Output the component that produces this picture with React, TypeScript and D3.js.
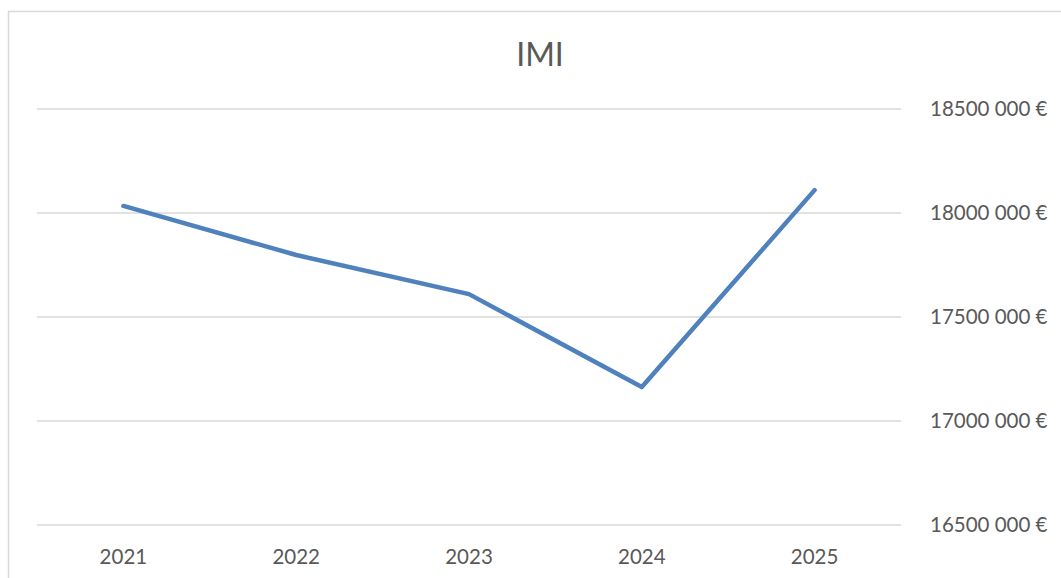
import React from "react";
import * as d3 from "d3";

const years = ["2021", "2022", "2023", "2024", "2025"];
const values = [18034000, 17798000, 17610000, 17163000, 18110000];
const yTicks = [16500000, 17000000, 17500000, 18000000, 18500000];
const title = "IMI";

const W = 1061;
const H = 578;
const FONT = "Lato, 'Open Sans', sans-serif";

const fmt = (v: number) => {
  const s = String(v);
  return s.slice(0, s.length - 3) + " " + s.slice(s.length - 3) + " €";
};

export default function App() {
  const x = d3.scaleBand<string>().domain(years).range([37, 901]);
  const y = d3.scaleLinear().domain([16500000, 18500000]).range([525, 109]);
  const line = d3
    .line<number>()
    .x((_, i) => (x(years[i]) as number) + x.bandwidth() / 2)
    .y((d) => y(d));

  return (
    <svg
      width={W}
      height={H}
      style={{ position: "absolute", left: 0, top: 0, background: "#fff" }}
    >
      <rect x={8.5} y={11.5} width={W + 20} height={H + 20} fill="#fff" stroke="#d9d9d9" strokeWidth={1.5} />
      <text x={540} y={66} textAnchor="middle" fontFamily={FONT} fontSize={32} fill="#595959">
        {title}
      </text>
      {yTicks.map((t) => (
        <g key={t}>
          <line x1={37} x2={901} y1={y(t)} y2={y(t)} stroke="#d9d9d9" strokeWidth={1.5} />
          <text x={930} y={y(t) + 7} fontFamily={FONT} fontSize={20.5} fill="#595959">
            {fmt(t)}
          </text>
        </g>
      ))}
      {years.map((yr) => (
        <text
          key={yr}
          x={(x(yr) as number) + x.bandwidth() / 2}
          y={564}
          textAnchor="middle"
          fontFamily={FONT}
          fontSize={20.5}
          fill="#595959"
        >
          {yr}
        </text>
      ))}
      <path d={line(values) || ""} fill="none" stroke="#4f81bd" strokeWidth={4.5} strokeLinejoin="round" strokeLinecap="round" />
    </svg>
  );
}
